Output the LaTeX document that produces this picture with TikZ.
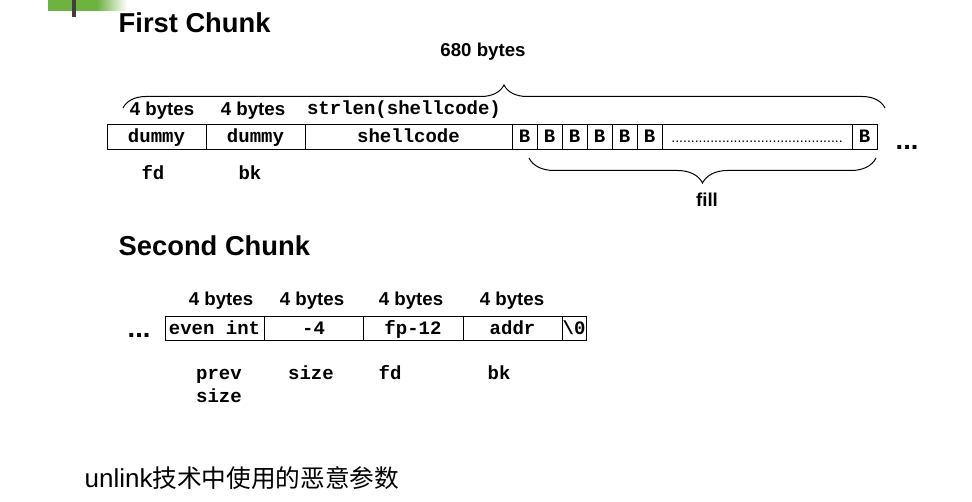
\documentclass[tikz,border=0pt]{standalone}
\usepackage{fontspec}
\usepackage{xcolor}
\usepackage{tikz}
\usetikzlibrary{positioning,decorations.pathreplacing}
\setmainfont{Liberation Sans}
\newfontfamily\monofam{Liberation Mono}
\newfontfamily\cjk{Noto Sans CJK SC}
\definecolor{barGreen}{HTML}{6DB33F}
\definecolor{barDark}{HTML}{3F3F3F}
\newcommand\titlefont{\fontsize{20.5pt}{24pt}\selectfont\bfseries}
\newcommand\bytesfont{\fontsize{14pt}{16pt}\selectfont\bfseries}
\newcommand\cellfont{\monofam\fontsize{14.25pt}{17.25pt}\selectfont\bfseries}
\newcommand\capfont{\fontsize{19.5pt}{22pt}\selectfont}
\newcommand\cjkfont{\cjk\fontsize{18.5pt}{22pt}\selectfont}
\newcommand\dotfont{\fontsize{10.5pt}{12pt}\selectfont}
\tikzset{
  cell/.style={draw=black, line width=0.75pt, inner sep=0pt, outer sep=0pt,
    minimum height=18.75pt, text height=11pt, text depth=3pt, font=\cellfont},
  head/.style={font=\titlefont, anchor=base west},
  bytes/.style={font=\bytesfont, anchor=base},
  field/.style={font=\cellfont, anchor=base},
  etc/.style={font=\titlefont, anchor=base west},
  brc/.style={draw=black, line width=0.75pt, decorate, decoration={brace, amplitude=#1}},
}
\begin{document}
\begin{tikzpicture}[x=0.75pt,y=-0.75pt]
  \useasboundingbox (0,0) rectangle (972,502);

  % slide mark
  \fill[barGreen] (48,0) rectangle (97,11);
  \shade[left color=barGreen, right color=white] (97,0) rectangle (127,11);
  \fill[barDark] (72,0) rectangle (76,17);

  % first chunk
  \node[head] (first) at (114,33) {First Chunk};
  \node[cell, minimum width=74.25pt] (dumA) at (156.5,137.5) {dummy};
  \node[cell, minimum width=74.25pt, right=0pt of dumA] (dumB) {dummy};
  \node[cell, minimum width=155.25pt, right=0pt of dumB] (sc) {shellcode};
  \foreach \i in {1,...,6}
    \node[cell, minimum width=18.75pt] (b\i) at ({499.5+25*\i},137.5) {B};
  \node[cell, minimum width=142.5pt, right=0pt of b6, font=\dotfont] (fillrow)
    {............................................};
  \node[cell, minimum width=18.75pt, right=0pt of fillrow] (bn) {B};
  \node[etc] (moreA) at (891,150) {...};

  \node[bytes] (lenA) at (162,116) {4 bytes};
  \node[bytes] (lenB) at (253,116) {4 bytes};
  \node[field] (lenSc) at (404,115) {strlen(shellcode)};
  \node[field] (fdA) at (153,180) {fd};
  \node[field] (bkA) at (250,180) {bk};

  \coordinate (topL) at (123,108);
  \coordinate (topR) at (885,108);
  \draw[brc=17.25pt] (topL) -- (topR);
  \node[bytes] (total) at (483,57) {680 bytes};

  \coordinate (fillL) at (529,158);
  \coordinate (fillR) at (876,158);
  \draw[brc=18.75pt, decoration={mirror}] (fillL) -- (fillR);
  \node[bytes] (fill) at (707,207) {fill};

  % second chunk
  \node[head] (second) at (114,256) {Second Chunk};
  \node[cell, minimum width=74.25pt, minimum height=18pt] (prev) at (214.5,329) {even int};
  \node[cell, minimum width=74.25pt, minimum height=18pt, right=0pt of prev] (size) {-4};
  \node[cell, minimum width=75pt, minimum height=18pt, right=0pt of size] (fd) {fp-12};
  \node[cell, minimum width=74.25pt, minimum height=18pt, right=0pt of fd] (bk) {addr};
  \node[cell, minimum width=18pt, minimum height=18pt, right=0pt of bk] (nul) {\textbackslash0};
  \node[etc] (moreB) at (123,338) {...};

  \node[bytes] (lenP) at (221,306) {4 bytes};
  \node[bytes] (lenS) at (312,306) {4 bytes};
  \node[bytes] (lenF) at (411,306) {4 bytes};
  \node[bytes] (lenK) at (512,306) {4 bytes};

  \node[field, align=left] (prevName) at (219,403) {prev\\size};
  \node[field] (sizeName) at (311,380) {size};
  \node[field] (fdName) at (390,380) {fd};
  \node[field] (bkName) at (499,380) {bk};

  \node[anchor=base west, font=\capfont] (cap) at (80,488) {unlink{\cjkfont 技术中使用的恶意参数}};
\end{tikzpicture}
\end{document}
